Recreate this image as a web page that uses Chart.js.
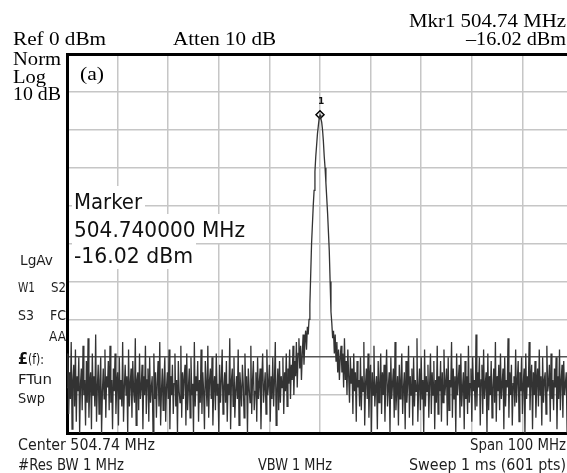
<!DOCTYPE html>
<html>
<head>
<meta charset="utf-8">
<script src="https://cdn.jsdelivr.net/npm/chart.js@4/dist/chart.umd.min.js"></script>
<style>
  html, body { margin: 0; padding: 0; background: #fff; overflow: hidden; }
  #wrap { position: relative; width: 580px; height: 473px; }
</style>
</head>
<body>
<div id="wrap"><canvas id="sa"></canvas></div>
<script>
// sweep settings
const centerMHz = 504.74;
const spanMHz = 100;
const refLevel = 0;      // dBm, top of the screen
const dbPerDiv = 10;
const divisions = 10;
const markerFreq = 504.74;
const markerLevel = -16.02;

// trace, 601 sweep points, dBm
const noiseLeft = [
  -88,-79,-95,-84,-91,-76,-99,-86,-82,-93,-78,-97,-85,-89,-80,-100,-87,-83,-94,-77,-90,-86,-98,
  -81,-92,-75,-96,-87,-84,-99,-79,-90,-85,-93,-74,-97,-88,-82,-95,-86,-80,-100,-89,-83,-91,-78,
  -96,-85,-88,-81,-94,-77,-92,-86,-99,-83,-89,-79,-95,-87,-84,-98,-80,-91,-86,-93,-76,-97,-88,
  -82,-90,-85,-100,-78,-93,-87,-83,-96,-81,-89,-92,-75,-98,-86,-84,-94,-79,-91,-88,-82,-99,-85,
  -90,-77,-95,-86,-83,-97,-80,-92,-88,-85,-100,-79,-91,-84,-96,-87,-81,-93,-76,-98,-89,-83,-94,
  -86,-80,-97,-88,-84,-91,-78,-99,-85,-90,-82,-95,-87,-79,-93,-86,-100,-81,-89,-92,-77,-96,-84,
  -91,-85,-82,-98,-79,-94,-88,-83,-96,-80,-90,-87,-100,-76,-93,-85,-89,-81,-97,-86,-92,-78,-95,
  -84,-89,-99,-81,-87,-93,-77,-96,-86,-83,-91,-80,-98,-88,-85,-94,-79,-90,-87,-100,-82,-92,-86,
  -78,-95,-88,-84,-92,-81,-97,-87,-90,-75,-99,-86,-83,-93,-80,-96,-89,-85,-91,-78,-98,-84,-88,
  -93,-82,-87,-96,-79,-90,-85,-100,-83,-88,-92,-77,-95,-86,-81,-94,-89,-84,-97,-80,-91,-87,-83,
  -99,-86,-79,-92,-88,-84,-95,-78,-90,-87,-82,-97,-85,-91,-80,-93,-86,-76,-98,-89,-83,-94,-81,
  -92,-85,-88,-80,-95,-84,-89,-79,-93,-83,-87,-78,-91,-82,-86,-77,-90,-81,-85,-76,-88,-79,-75
];
const peakCore = [
  -83,-77,-86,-79,-74,-82,-76,-73,-78,-72,
  -74,-70,-66,-58,-50,-45,-40,-36,-31,-27,-24,-21,-19,-17,
  -16.02,
  -17,-18,-20,-23,-27,-30,-34,-38,-42,-47,-52,-60,-68,-71,
  -75,-73,-79,-74,-81,-76,-84,-78,-86,-80
];
const noiseRight = [
  -77,-84,-79,-88,-75,-86,-81,-90,-78,-85,-92,-80,-87,-83,-95,-79,-89,-84,-97,-81,-88,-86,-93,
  -80,-94,-85,-89,-76,-98,-87,-83,-91,-79,-96,-86,-82,-100,-84,-90,-77,-93,-88,-85,-99,-81,-92,
  -87,-79,-95,-84,-90,-82,-97,-86,-78,-93,-88,-84,-100,-80,-91,-87,-83,-96,-76,-94,-89,-85,-98,
  -82,-91,-86,-79,-95,-88,-84,-99,-81,-92,-87,-77,-96,-85,-90,-83,-98,-80,-93,-86,-89,-75,-97,
  -88,-83,-94,-80,-91,-86,-100,-78,-93,-85,-89,-82,-96,-87,-79,-95,-84,-90,-81,-99,-86,-92,-77,
  -95,-85,-89,-81,-97,-84,-92,-78,-90,-87,-83,-98,-80,-94,-86,-88,-76,-96,-83,-91,-85,-100,-79,
  -90,-86,-82,-96,-79,-93,-88,-84,-99,-81,-91,-85,-95,-77,-92,-87,-83,-97,-80,-89,-86,-94,-74,
  -93,-84,-88,-80,-98,-86,-82,-95,-78,-91,-87,-84,-100,-79,-94,-85,-90,-81,-96,-88,-83,-92,-76,
  -97,-85,-89,-82,-94,-79,-91,-87,-83,-99,-80,-93,-86,-88,-75,-96,-84,-90,-82,-98,-87,-85,-93,
  -78,-92,-86,-81,-97,-84,-89,-80,-95,-87,-83,-100,-79,-91,-85,-88,-76,-94,-86,-82,-99,-84,-90,
  -81,-96,-87,-83,-93,-78,-90,-85,-98,-80,-92,-86,-84,-95,-77,-89,-87,-82,-97,-79,-91,-86,-94,
  -83,-88,-80,-99,-85,-91,-78,-94,-86,-82,-96,-81,-90,-87,-84,-100,-79,-93,-85,-89,-76,-95,-86
];

const trace = noiseLeft.concat(peakCore, noiseRight);
const startMHz = centerMHz - spanMHz / 2;
const stopMHz = centerMHz + spanMHz / 2;
const points = trace.map((v, i) => ({ x: startMHz + i * spanMHz / (trace.length - 1), y: v }));

const serif = '19px "Liberation Serif"';
const inst = '15px "DejaVu Sans Condensed"';
const small = '14px "DejaVu Sans Condensed"';
const big = '21px "DejaVu Sans Condensed"';

// screen annotations: text, x, baseline, font, width, align
const labels = [
  ['Mkr1 504.74 MHz', 566, 27, serif, 157, 'right'],
  ['\u201316.02 dBm', 566, 45, serif, 100, 'right'],
  ['Ref 0 dBm', 13, 45, serif, 93],
  ['Atten 10 dB', 173, 45, serif, 103],
  ['Norm', 13, 65, serif, 48],
  ['Log', 13, 83, serif, 33],
  ['10 dB', 13, 100, serif, 48],
  ['(a)', 80, 80, serif, 24],
  ['LgAv', 20, 265, small, 33],
  ['W1', 18, 292, small, 17],
  ['S2', 66, 292, small, 15, 'right'],
  ['S3', 18, 320, small, 16],
  ['FC', 66, 320, small, 16, 'right'],
  ['AA', 66, 341, small, 17, 'right'],
  ['FTun', 18, 384, small, 34],
  ['Swp', 18, 403, small, 27],
  ['Center 504.74 MHz', 18, 450, inst, 137],
  ['Span 100 MHz', 566, 450, inst, 96, 'right'],
  ['#Res BW 1 MHz', 18, 470, inst, 106],
  ['VBW 1 MHz', 258, 470, inst, 74],
  ['Sweep 1 ms (601 pts)', 566, 470, inst, 157, 'right']
];
const markerBox = [
  ['Marker', 74, 209, big, 68],
  ['504.740000 MHz', 74, 237, big, 171],
  ['-16.02 dBm', 74, 263, big, 119]
];

function drawText(ctx, s, x, y, font, w, align) {
  ctx.save();
  ctx.font = font;
  const m = ctx.measureText(s).width;
  const sx = w ? w / m : 1;
  ctx.translate(align === 'right' ? x - m * sx : x, y);
  ctx.scale(sx, 1);
  ctx.textAlign = 'left';
  ctx.textBaseline = 'alphabetic';
  ctx.fillText(s, 0, 0);
  ctx.restore();
}

const annotations = {
  id: 'annotations',
  afterDraw(chart) {
    const ctx = chart.ctx;
    ctx.save();
    labels.forEach(l => {
      ctx.fillStyle = l[3] === serif ? '#000' : '#1e1e1e';
      drawText(ctx, l[0], l[1], l[2], l[3], l[4], l[5]);
    });
    // pound sign with (f):
    ctx.fillStyle = '#111';
    drawText(ctx, '\u00a3', 18, 364, 'bold 15px "DejaVu Sans Condensed"', 10);
    drawText(ctx, '(f):', 28, 364, small, 16);
    // marker readout on white boxes
    markerBox.forEach(l => {
      ctx.fillStyle = '#fff';
      ctx.fillRect(l[1] - 2, l[2] - 23, l[4] + 5, 29);
    });
    ctx.fillStyle = '#111';
    markerBox.forEach(l => drawText(ctx, l[0], l[1], l[2], l[3], l[4]));
    // marker number
    const mk = chart.getDatasetMeta(1).data[0];
    drawText(ctx, '1', mk.x - 2, mk.y - 11, 'bold 9px "DejaVu Sans"');
    ctx.restore();
  }
};

new Chart(document.getElementById('sa'), {
  type: 'line',
  data: {
    datasets: [{
      data: points,
      borderColor: '#333',
      borderWidth: 1.3,
      pointRadius: 0,
      tension: 0
    }, {
      data: [{ x: markerFreq, y: markerLevel }],
      showLine: false,
      pointStyle: 'rectRot',
      pointRadius: 4,
      pointBackgroundColor: '#fff',
      pointBorderColor: '#000',
      pointBorderWidth: 1.5
    }]
  },
  options: {
    responsive: true,
    maintainAspectRatio: false,
    animation: false,
    events: [],
    layout: { padding: { left: 67, top: 54, right: 7, bottom: 40 } },
    plugins: { legend: { display: false }, tooltip: { enabled: false } },
    scales: {
      x: {
        type: 'linear',
        min: startMHz,
        max: stopMHz,
        afterBuildTicks: s => {
          s.ticks = Array.from({ length: divisions + 1 }, (_, k) => ({ value: startMHz + k * spanMHz / divisions }));
        },
        afterFit: s => { s.height = 0; },
        ticks: { display: false },
        grid: { color: '#c6c6c6', lineWidth: 1.5, drawTicks: false },
        border: { color: '#000', width: 3 }
      },
      y: {
        min: refLevel - dbPerDiv * divisions,
        max: refLevel,
        afterBuildTicks: s => {
          s.ticks = Array.from({ length: divisions + 1 }, (_, k) => ({ value: refLevel - k * dbPerDiv }));
        },
        afterFit: s => { s.width = 0; },
        ticks: { display: false },
        grid: {
          drawTicks: false,
          color: c => c.tick.value === refLevel ? '#000' : (c.tick.value === -80 ? '#555' : '#c6c6c6'),
          lineWidth: c => c.tick.value === refLevel ? 3 : 1.5
        },
        border: { color: '#000', width: 3 }
      }
    }
  },
  plugins: [annotations]
});
</script>
</body>
</html>
